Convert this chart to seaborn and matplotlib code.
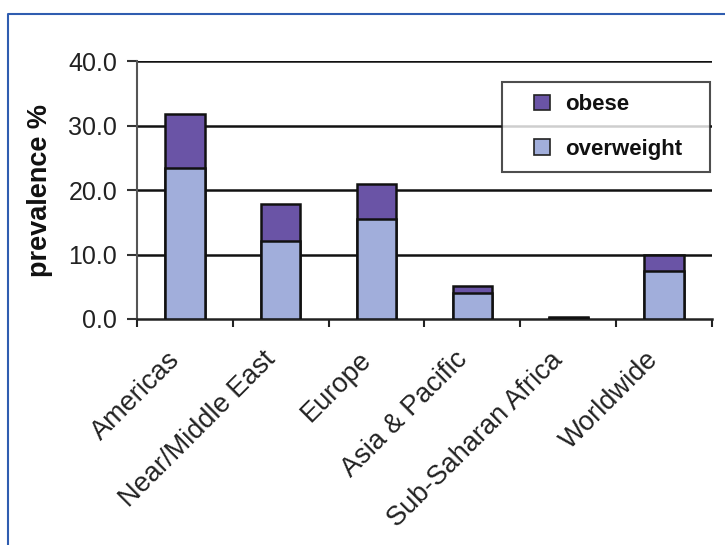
import matplotlib
matplotlib.use("Agg")
import matplotlib.pyplot as plt
from matplotlib.lines import Line2D
from matplotlib.patches import Patch, Rectangle
from matplotlib.legend_handler import HandlerPatch
import numpy as np
import pandas as pd
import seaborn as sns

# Prevalence of overweight and obesity by region (%)
regions = ["Americas", "Near/Middle East", "Europe", "Asia & Pacific",
           "Sub-Saharan Africa", "Worldwide"]
overweight = [23.4, 12.1, 15.5, 4.0, 0.2, 7.4]
obese = [8.4, 5.7, 5.4, 1.1, 0.1, 2.5]
y_ticks = [0.0, 10.0, 20.0, 30.0, 40.0]

OBESE_COLOR = "#6a54a6"
OVERWEIGHT_COLOR = "#a1aedb"

df = pd.DataFrame({
    "region": regions,
    "overweight": overweight,
    "obese": obese,
})
df["total"] = df["overweight"] + df["obese"]

sns.set_style("white")
plt.rcParams["font.family"] = ["Liberation Sans", "DejaVu Sans"]

fig = plt.figure(figsize=(7.25, 5.45), dpi=100)
ax = fig.add_axes([0.189, 0.4147, 0.793, 0.4733])

# Stacked bars: full height in the obese colour, overweight share drawn over it
sns.barplot(data=df, x="region", y="total", color=OBESE_COLOR, width=0.41,
            edgecolor="#111111", linewidth=1.8, saturation=1, ax=ax, zorder=3)
sns.barplot(data=df, x="region", y="overweight", color=OVERWEIGHT_COLOR, width=0.41,
            edgecolor="#111111", linewidth=1.8, saturation=1, ax=ax, zorder=4)

ax.set_xlim(-0.5, len(regions) - 0.5)
ax.set_ylim(0, 40)
ax.set_yticks(y_ticks)
ax.set_yticklabels([f"{v:.1f}" for v in y_ticks])

# Horizontal gridlines
for v in y_ticks[1:]:
    ax.axhline(v, color="#111111", linewidth=1.8, zorder=1)

for side in ["top", "right"]:
    ax.spines[side].set_visible(False)
ax.spines["left"].set_color("#555555")
ax.spines["left"].set_linewidth(1.5)
ax.spines["bottom"].set_color("#222222")
ax.spines["bottom"].set_linewidth(1.8)

ax.tick_params(axis="y", direction="out", length=7.2, width=1.5, color="#333333",
               labelsize=18, labelcolor="#222222", left=True, pad=7)

# Category boundary ticks on the x axis
ax.set_xticks(np.arange(-0.5, len(regions), 1.0), minor=True)
ax.tick_params(axis="x", which="minor", direction="out", length=5.8, width=1.5,
               color="#222222", bottom=True)
ax.tick_params(axis="x", which="major", length=0, labelsize=19.5,
               labelcolor="#222222", pad=20)
ax.set_xticks(range(len(regions)))
ax.set_xticklabels(regions, rotation=45, ha="right", rotation_mode="default")

ax.set_xlabel("")
ax.set_ylabel("prevalence %", fontsize=19.5, fontweight="bold", color="#111111",
              labelpad=11)


def square_handle(legend, orig_handle, xdescent, ydescent, width, height, fontsize):
    side = 0.7 * fontsize
    return Rectangle((width - side - xdescent, (height - side) / 2 - ydescent),
                     side, side)


handles = [Patch(facecolor=OBESE_COLOR, edgecolor="#222222", linewidth=1.2),
           Patch(facecolor=OVERWEIGHT_COLOR, edgecolor="#222222", linewidth=1.2)]
leg = ax.legend(handles, ["obese", "overweight"], loc="upper left",
                bbox_to_anchor=(0.635, 0.5775, 0.3615, 0.341), mode="expand",
                frameon=True, fancybox=False,
                prop={"size": 16, "weight": "bold"}, handlelength=1.6,
                handleheight=0.7, handletextpad=0.68, labelspacing=1.05,
                borderpad=0.55, borderaxespad=0.0,
                handler_map={Patch: HandlerPatch(patch_func=square_handle)})
leg.get_frame().set_edgecolor("#222222")
leg.get_frame().set_linewidth(1.5)
leg.set_zorder(5)
for t in leg.get_texts():
    t.set_color("#111111")

# Blue frame along the left and top edges of the figure
x0 = 8 / 725
y0 = 1 - 14 / 545
fig.add_artist(Line2D([x0, x0, 1.0], [0.0, y0, y0], transform=fig.transFigure,
                      color="#2f5db0", linewidth=1.5))

fig.savefig("out.png", dpi=100)
